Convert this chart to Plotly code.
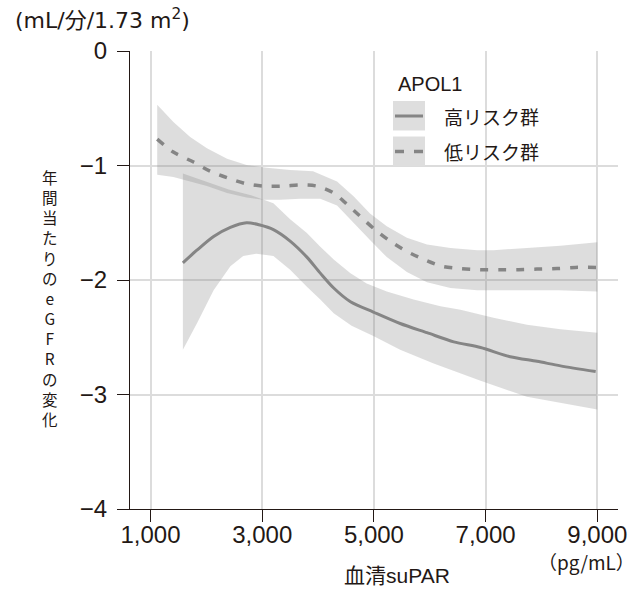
import plotly.graph_objects as go

# ---------------- data ----------------
x_ticks = [1000, 3000, 5000, 7000, 9000]
x_labels = ["1,000", "3,000", "5,000", "7,000", "9,000"]
y_ticks = [0, -1, -2, -3, -4]
y_labels = ["0", "\u22121", "\u22122", "\u22123", "\u22124"]

# low-risk group (dashed line) and its confidence band
low_x = [1120, 1400, 1770, 2070, 2390, 2720, 3020, 3380, 3680, 3980, 4280, 4520,
         4790, 5020, 5290, 5590, 5890, 6220, 6550, 6900, 7260, 7590, 7920, 8280, 8610, 9000]
low_y = [-0.77, -0.88, -0.97, -1.05, -1.11, -1.16, -1.18, -1.18, -1.17, -1.18, -1.24, -1.34,
         -1.46, -1.56, -1.66, -1.75, -1.82, -1.88, -1.90, -1.91, -1.91, -1.91, -1.905, -1.90, -1.89, -1.89]
low_up_x = [1120, 1410, 1710, 2010, 2370, 2720, 3080, 3500, 3910, 4340, 4640, 4930,
            5230, 5590, 5950, 6370, 6850, 7140, 7740, 8340, 9000]
low_up = [-0.47, -0.62, -0.75, -0.85, -0.94, -0.995, -1.02, -1.04, -1.05, -1.14, -1.27, -1.42,
          -1.53, -1.63, -1.69, -1.72, -1.74, -1.74, -1.72, -1.70, -1.67]
low_lo_x = [1120, 1410, 1590, 2010, 2370, 2720, 3020, 3320, 3680, 4040, 4340, 4640,
            4930, 5230, 5590, 5950, 6370, 6850, 7500, 8300, 9000]
low_lo = [-1.08, -1.10, -1.12, -1.18, -1.24, -1.28, -1.30, -1.30, -1.29, -1.29, -1.35, -1.50,
          -1.65, -1.80, -1.93, -2.02, -2.07, -2.09, -2.09, -2.09, -2.10]

# high-risk group (solid line) and its confidence band
high_x = [1580, 1830, 2130, 2430, 2720, 2960, 3200, 3500, 3800, 4040, 4280, 4580,
          4990, 5470, 5950, 6430, 6910, 7440, 7920, 8340, 8970]
high_y = [-1.85, -1.74, -1.62, -1.54, -1.50, -1.52, -1.56, -1.66, -1.80, -1.94, -2.07, -2.19,
          -2.28, -2.38, -2.46, -2.54, -2.59, -2.67, -2.71, -2.75, -2.80]
high_up_x = [1580, 2000, 2400, 2800, 3200, 3500, 3800, 4040, 4280, 4580, 4870, 5230,
             5710, 6190, 6550, 7140, 7740, 8340, 9000]
high_up = [-1.07, -1.14, -1.21, -1.26, -1.33, -1.47, -1.59, -1.71, -1.82, -1.94, -2.03, -2.10,
           -2.17, -2.23, -2.26, -2.33, -2.39, -2.43, -2.46]
high_lo_x = [1580, 1830, 2130, 2430, 2660, 2900, 3200, 3500, 3800, 4040, 4280, 4600,
             4990, 5470, 6070, 6910, 7740, 8340, 9000]
high_lo = [-2.61, -2.38, -2.09, -1.88, -1.79, -1.77, -1.79, -1.91, -2.06, -2.17, -2.29, -2.40,
           -2.49, -2.61, -2.73, -2.88, -3.02, -3.07, -3.13]

group_title = "APOL1"
group_names = ["高リスク群", "低リスク群"]
y_title = "年間当たりのeGFRの変化"

# ---------------- style ----------------
W, H = 643, 589
ML, MR, MT, MB = 130, 25, 51, 80
PW, PH = W - ML - MR, H - MT - MB
INK = "#231815"
LINE = "#858585"
BAND = "rgba(128,128,128,0.27)"
FONT = "Liberation Sans, Noto Sans CJK JP, sans-serif"
WIDE = "DejaVu Sans, Noto Sans CJK JP, sans-serif"
CJK = "Noto Sans CJK JP, Liberation Sans, sans-serif"


def px(xp):
    return (xp - ML) / PW


def py(yp):
    return (H - MB - yp) / PH


fig = go.Figure()
fig.add_trace(go.Scatter(x=high_up_x + high_lo_x[::-1], y=high_up + high_lo[::-1],
                         fill="toself", fillcolor=BAND, mode="lines", line=dict(width=0),
                         showlegend=False, hoverinfo="skip"))
fig.add_trace(go.Scatter(x=low_up_x + low_lo_x[::-1], y=low_up + low_lo[::-1],
                         fill="toself", fillcolor=BAND, mode="lines", line=dict(width=0),
                         showlegend=False, hoverinfo="skip"))
fig.add_trace(go.Scatter(x=high_x, y=high_y, mode="lines", name=group_names[0],
                         line=dict(color=LINE, width=3, shape="spline", smoothing=0.8),
                         showlegend=False))
fig.add_trace(go.Scatter(x=low_x, y=low_y, mode="lines", name=group_names[1],
                         line=dict(color=LINE, width=3.5, dash="8px,10px", shape="spline", smoothing=0.8),
                         showlegend=False))

axis_common = dict(showgrid=True, gridcolor="#dcdcdc", gridwidth=2, zeroline=False,
                   showline=True, linecolor=INK, linewidth=1.3, ticks="outside",
                   ticklen=12, tickwidth=1.3, tickcolor=INK,
                   tickfont=dict(family=FONT, size=24, color=INK))

fig.update_layout(
    width=W, height=H, margin=dict(l=ML, r=MR, t=MT, b=MB),
    paper_bgcolor="white", plot_bgcolor="white",
    font=dict(family=FONT, color=INK),
    xaxis=dict(range=[633, 9370], tickvals=x_ticks, ticktext=x_labels,
               ticklabelstandoff=-8, **axis_common),
    yaxis=dict(range=[-4, 0], tickvals=y_ticks, ticktext=y_labels,
               ticklabelstandoff=5, **axis_common),
)

ann = []
# units label
ann.append(dict(text="(mL/分/1.73 m<sup>2</sup>)", x=px(13), y=py(19), xanchor="left",
                yanchor="middle", font=dict(family=WIDE, size=22, color=INK)))
# x title and unit
ann.append(dict(text="血清suPAR", x=px(397), y=py(575), xanchor="center", yanchor="middle",
                font=dict(family=FONT, size=21, color=INK)))
ann.append(dict(text="（pg/mL）", x=px(586), y=py(561), xanchor="center", yanchor="middle",
                font=dict(family=CJK, size=19, color=INK)))
# vertical y title (upright stacked characters, one text)
ann.append(dict(text="<br>".join(y_title), x=px(50), y=py(164), xanchor="center", yanchor="top",
                align="center", font=dict(family=CJK, size=15.5, color=INK)))
# legend
ann.append(dict(text=group_title, x=px(396), y=py(84), xanchor="left", yanchor="middle",
                font=dict(family=FONT, size=20, color=INK)))
for i, name in enumerate(group_names):
    ann.append(dict(text=name, x=px(442), y=py(116 + 35.5 * i), xanchor="left", yanchor="middle",
                    font=dict(family=CJK, size=19, color=INK)))
for a in ann:
    a.update(xref="paper", yref="paper", showarrow=False)

shapes = []
for i in range(2):
    y0 = 101 + 35.5 * i
    shapes.append(dict(type="rect", x0=px(393), x1=px(425), y0=py(y0), y1=py(y0 + 29.5),
                       fillcolor="#dedede", line=dict(width=0), layer="above"))
shapes.append(dict(type="line", x0=px(395), x1=px(423), y0=py(116), y1=py(116),
                   line=dict(color=LINE, width=3), layer="above"))
for a, b in [(395, 404), (414, 423)]:
    shapes.append(dict(type="line", x0=px(a), x1=px(b), y0=py(151.5), y1=py(151.5),
                       line=dict(color=LINE, width=3.5), layer="above"))
for s in shapes:
    s.update(xref="paper", yref="paper")

fig.update_layout(annotations=ann, shapes=shapes)
fig.write_html("out.html", config={"displayModeBar": False},
               post_script="document.body.style.margin='0px';")
